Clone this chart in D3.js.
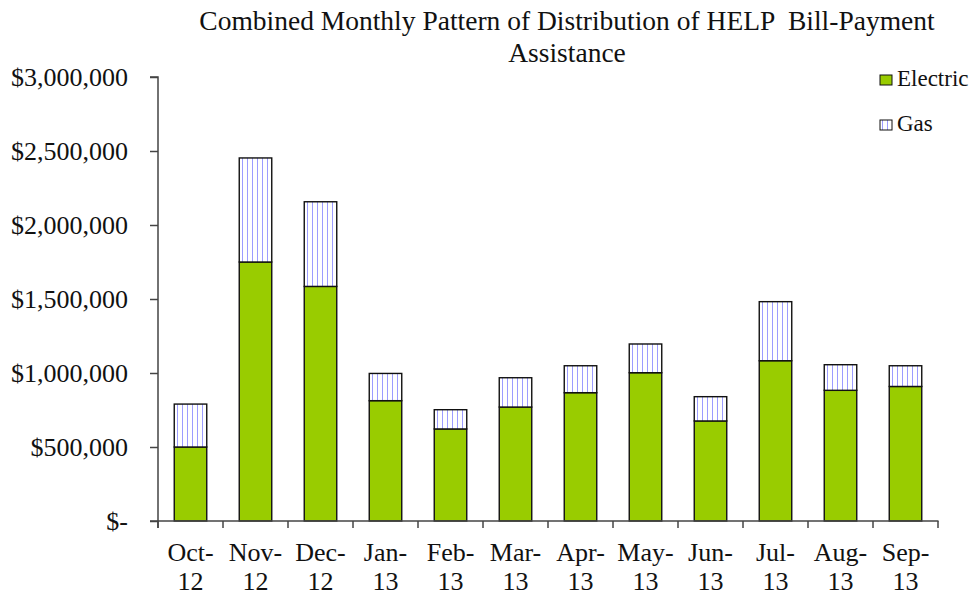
<!DOCTYPE html>
<html>
<head>
<meta charset="utf-8">
<script src="https://cdn.jsdelivr.net/npm/d3@7"></script>
<style>
  body { margin: 0; background: #fff; }
</style>
</head>
<body>
<div id="chart"></div>
<script>
// ---------- Data ----------
const months = ["Oct-|12", "Nov-|12", "Dec-|12", "Jan-|13", "Feb-|13", "Mar-|13",
                "Apr-|13", "May-|13", "Jun-|13", "Jul-|13", "Aug-|13", "Sep-|13"];
const electric = [500000, 1750000, 1585000, 813000, 622000, 770000,
                  867000, 1002000, 676000, 1083000, 883000, 909000];
const gas = [290000, 703000, 572000, 184000, 130000, 198000,
             182000, 194000, 164000, 399000, 173000, 140000];
const yTicks = [0, 500000, 1000000, 1500000, 2000000, 2500000, 3000000];
const seriesNames = ["Electric", "Gas"];

const W = 978, H = 597;
const margin = { left: 158, right: 40, top: 77, bottom: 76 };
const FONT = "Liberation Serif, Times New Roman, serif";

const svg = d3.select("#chart").append("svg")
    .attr("width", W).attr("height", H)
    .attr("font-family", FONT);

// pattern for gas
const defs = svg.append("defs");
const pat = defs.append("pattern")
    .attr("id", "vlines")
    .attr("patternUnits", "userSpaceOnUse")
    .attr("width", 5).attr("height", 5);
pat.append("rect").attr("width", 5).attr("height", 5).attr("fill", "#fff");
pat.append("line")
    .attr("x1", 2.5).attr("x2", 2.5).attr("y1", 0).attr("y2", 5)
    .attr("stroke", "#9c9cff").attr("stroke-width", 1);

const fills = { Electric: "#99cc00", Gas: "url(#vlines)" };

const table = months.map((m, i) => ({ month: m, Electric: electric[i], Gas: gas[i] }));
const stacked = d3.stack().keys(seriesNames)(table);

const x = d3.scaleBand()
    .domain(months)
    .range([margin.left, W - margin.right])
    .paddingInner(0.5).paddingOuter(0.25);

const y = d3.scaleLinear()
    .domain([0, 3000000])
    .range([H - margin.bottom, margin.top]);

// ---------- Bars ----------
svg.append("g")
    .selectAll("g")
    .data(stacked)
    .join("g")
    .attr("fill", d => fills[d.key])
    .selectAll("rect")
    .data(d => d)
    .join("rect")
    .attr("x", d => x(d.data.month))
    .attr("width", x.bandwidth())
    .attr("y", d => y(d[1]))
    .attr("height", d => y(d[0]) - y(d[1]))
    .attr("stroke", "#111")
    .attr("stroke-width", 1.4);

// ---------- Y axis ----------
const fmt = d => d === 0 ? "$-" : "$" + d3.format(",")(d);
const yAxis = svg.append("g")
    .attr("transform", `translate(${margin.left},0)`)
    .call(d3.axisLeft(y).tickValues(yTicks).tickFormat(fmt).tickSize(8).tickPadding(22));
yAxis.attr("font-family", FONT).attr("font-size", null);
yAxis.select(".domain").attr("stroke", "#444").attr("stroke-width", 1.5)
    .attr("d", `M-8,${y(3000000)}H0V${y(0) + 7}`);
yAxis.selectAll(".tick line").attr("stroke", "#444").attr("stroke-width", 1.5);
yAxis.selectAll("text")
    .attr("font-size", 26).attr("fill", "#111");

// ---------- X axis ----------
const bandStep = x.step();
const xAxis = svg.append("g")
    .attr("transform", `translate(0,${y(0)})`);
xAxis.append("line")
    .attr("x1", margin.left - 8).attr("x2", W - margin.right + 0.5)
    .attr("stroke", "#444").attr("stroke-width", 1.5);
xAxis.selectAll(".tk")
    .data(d3.range(months.length + 1))
    .join("line")
    .attr("class", "tk")
    .attr("x1", i => margin.left + i * bandStep)
    .attr("x2", i => margin.left + i * bandStep)
    .attr("y1", 0).attr("y2", 7)
    .attr("stroke", "#444").attr("stroke-width", 1.5);
const xl = xAxis.selectAll(".lbl")
    .data(months)
    .join("text")
    .attr("class", "lbl")
    .attr("text-anchor", "middle")
    .attr("font-size", 26).attr("fill", "#111")
    .attr("transform", d => `translate(${x(d) + x.bandwidth() / 2},0)`);
xl.append("tspan").attr("x", 0).attr("y", 40).text(d => d.split("|")[0]);
xl.append("tspan").attr("x", 0).attr("y", 69).text(d => d.split("|")[1]);

// ---------- Title ----------
const title = svg.append("text")
    .attr("text-anchor", "middle")
    .attr("font-size", 27.5).attr("fill", "#111")
    .attr("transform", "translate(567,0)");
title.append("tspan").attr("x", 0).attr("y", 30)
    .style("white-space", "pre")
    .text("Combined Monthly Pattern of Distribution of HELP  Bill-Payment");
title.append("tspan").attr("x", 0).attr("y", 62).text("Assistance");

// ---------- Legend ----------
const leg = svg.append("g")
    .attr("transform", "translate(880,75)");
const li = leg.selectAll("g")
    .data(seriesNames)
    .join("g")
    .attr("transform", (d, i) => `translate(0,${i * 45})`);
li.append("rect")
    .attr("width", 12).attr("height", 10)
    .attr("fill", d => fills[d])
    .attr("stroke", "#111").attr("stroke-width", 1);
li.append("text")
    .attr("x", 17).attr("y", 11)
    .attr("font-size", 23).attr("fill", "#111")
    .text(d => d);
</script>
</body>
</html>
